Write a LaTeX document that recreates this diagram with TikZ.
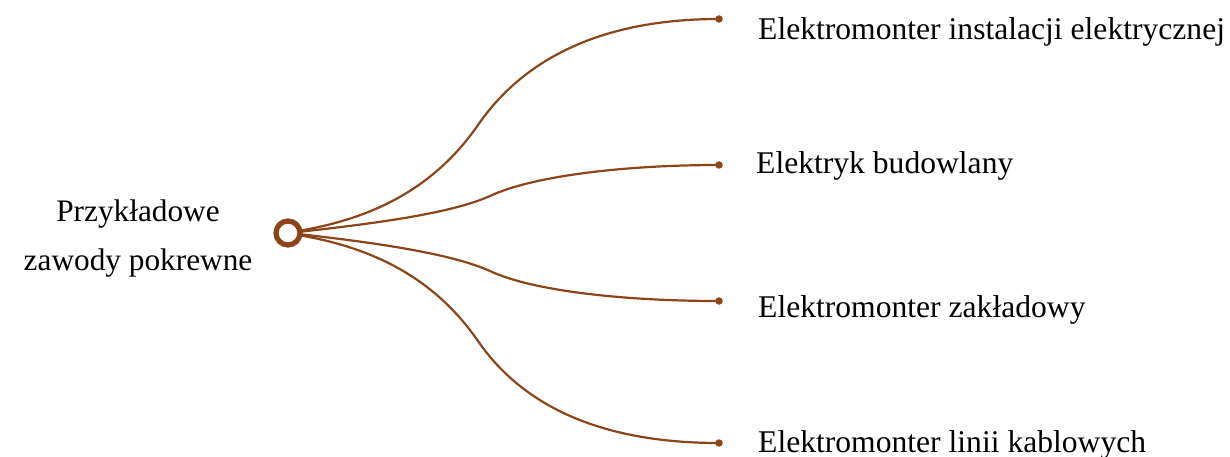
\documentclass[tikz,border=0pt]{standalone}
\usepackage{fontspec}
\setmainfont{Liberation Serif}
\definecolor{branch}{RGB}{139,69,25}
\begin{document}
\begin{tikzpicture}[x=1pt,y=-1pt,
  conn/.style={draw=branch,line width=2.2pt},
  enddot/.style={circle,fill=branch,inner sep=0pt,minimum size=7.5pt},
  hub/.style={circle,draw=branch,line width=5.2pt,fill=white,inner sep=0pt,minimum size=24pt},
  lbl/.style={anchor=base west,inner sep=0pt,font=\fontsize{31.6}{37}\selectfont},
  rootlbl/.style={anchor=base,inner sep=0pt,font=\fontsize{31.3}{37}\selectfont}]
\useasboundingbox (0,0) rectangle (1230,457);
\coordinate (h1) at (298,231);
\coordinate (h2) at (298,232);
\coordinate (h3) at (298,234);
\coordinate (h4) at (298,235);
\node[enddot] (e1) at (719,19) {};
\node[enddot] (e2) at (719,165) {};
\node[enddot] (e3) at (719,301) {};
\node[enddot] (e4) at (719,443) {};
\draw[conn] (h1) .. controls (370,219) and (433,190) .. (478,125)
                 .. controls (518,67) and (590,19) .. (e1.center);
\draw[conn] (h2) .. controls (370,224) and (450,214) .. (490,196)
                 .. controls (530,177) and (619,165) .. (e2.center);
\draw[conn] (h3) .. controls (370,242) and (450,253) .. (490,271)
                 .. controls (530,290) and (619,301) .. (e3.center);
\draw[conn] (h4) .. controls (370,247) and (433,276) .. (478,341)
                 .. controls (518,399) and (590,443) .. (e4.center);
\node[hub] (hubnode) at (288,233) {};
\node[lbl] (t1) at (758,40) {Elektromonter instalacji elektrycznej};
\node[lbl] (t2) at (756,174) {Elektryk budowlany};
\node[lbl] (t3) at (758,317) {Elektromonter zakładowy};
\node[lbl] (t4) at (758,452) {Elektromonter linii kablowych};
\node[rootlbl] (r1) at (138,221) {Przykładowe};
\node[rootlbl] (r2) at (138,270) {zawody pokrewne};
\end{tikzpicture}
\end{document}
